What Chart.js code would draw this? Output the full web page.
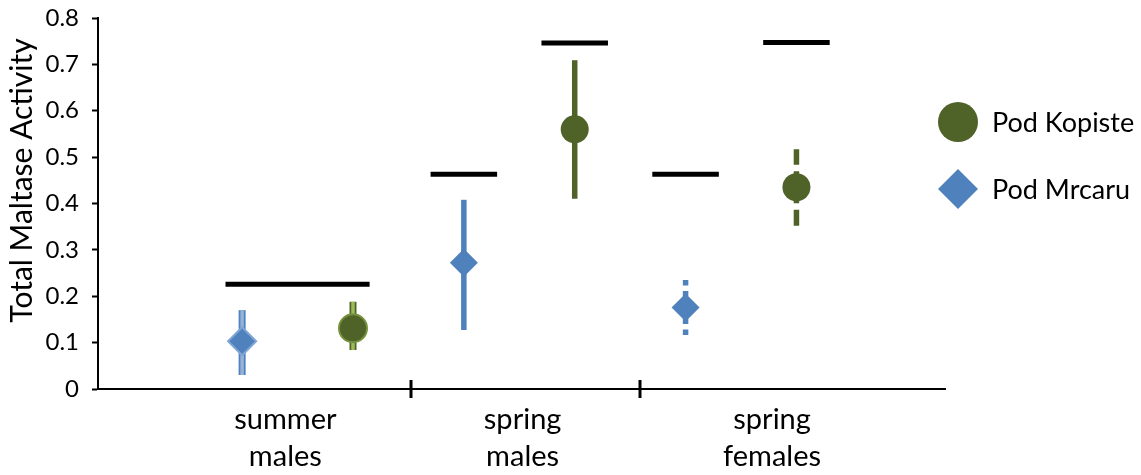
<!DOCTYPE html>
<html>
<head>
<meta charset="utf-8">
<script src="https://cdn.jsdelivr.net/npm/chart.js@4.4.1/dist/chart.umd.min.js"></script>
<style>
  body { margin: 0; background: #fff; }
  #wrap { width: 1141px; height: 475px; }
</style>
</head>
<body>
<div id="wrap"><canvas id="maltaseChart" width="1141" height="475"></canvas></div>
<script>
const categories = [['summer', 'males'], ['spring', 'males'], ['spring', 'females']];

const kopisteMean = [0.131, 0.560, 0.435];
const kopisteLow = [0.084, 0.410, 0.350];
const kopisteHigh = [0.188, 0.709, 0.517];

const mrcaruMean = [0.103, 0.272, 0.176];
const mrcaruLow = [0.030, 0.127, 0.116];
const mrcaruHigh = [0.170, 0.408, 0.235];

// black bars drawn above each group
const kopisteCap = [0.226, 0.746, 0.747];
const mrcaruCap = [0.226, 0.463, 0.463];

const yTicks = [0, 0.1, 0.2, 0.3, 0.4, 0.5, 0.6, 0.7, 0.8];

// layout
const FONT = 'Lato';
const X_MIN = -0.3, X_MAX = 7.34;
const labelPos = [1.39, 3.53, 5.78];
const dividers = [2.52, 4.59];
const barStyle = ['outline', 'solid', 'dashed'];

const series = [
  { name: 'Pod Kopiste', mean: kopisteMean, low: kopisteLow, high: kopisteHigh, cap: kopisteCap,
    offset: 2, color: '#4F6228', light: '#9BBB59', rim: '#76923C', shape: 'circle', dash: [16, 6.5] },
  { name: 'Pod Mrcaru', mean: mrcaruMean, low: mrcaruLow, high: mrcaruHigh, cap: mrcaruCap,
    offset: 1, color: '#4F81BD', light: '#95B3D7', rim: '#7FA5D6', shape: 'rectRot', dash: [5.5, 5.5] }
];

function xOf(s, i) { return 2 * i + s.offset; }

const datasets = [];

// markers first so they sit on top
series.forEach((s) => {
  datasets.push({
    label: s.name,
    data: s.mean.map((v, i) => ({ x: xOf(s, i), y: v })),
    pointStyle: s.shape,
    pointRadius: 14,
    pointBackgroundColor: s.color,
    pointBorderColor: s.mean.map((v, i) => (barStyle[i] === 'outline' ? s.rim : s.color)),
    pointBorderWidth: s.mean.map((v, i) => (barStyle[i] === 'outline' ? 2 : 0))
  });
});

// error bars, drawn from the mean outwards (upper and lower halves)
function half(s, i, end, width, color, dash) {
  return {
    data: [{ x: xOf(s, i), y: s.mean[i] }, { x: xOf(s, i), y: end }],
    showLine: true,
    pointRadius: 0,
    borderColor: color,
    borderWidth: width,
    borderDash: dash,
    borderCapStyle: 'butt'
  };
}

series.forEach((s) => {
  s.mean.forEach((m, i) => {
    [s.high[i], s.low[i]].forEach((end) => {
      if (barStyle[i] === 'outline') {
        datasets.push(half(s, i, end, 3.5, s.light, []));
        datasets.push(half(s, i, end, 7, s.color, []));
      } else if (barStyle[i] === 'dashed') {
        datasets.push(half(s, i, end, 5.5, s.color, s.dash));
      } else {
        datasets.push(half(s, i, end, 5.5, s.color, []));
      }
    });
  });
});

// black cap lines
function capLine(x1, x2, y) {
  return {
    data: [{ x: x1, y: y }, { x: x2, y: y }],
    showLine: true,
    pointRadius: 0,
    borderColor: '#000',
    borderWidth: 5,
    borderCapStyle: 'butt'
  };
}
const [kop, mrc] = series;
categories.forEach((c, i) => {
  if (kop.cap[i] === mrc.cap[i]) {
    datasets.push(capLine(xOf(mrc, i) - 0.15, xOf(kop, i) + 0.15, kop.cap[i]));
  } else {
    datasets.push(capLine(xOf(mrc, i) - 0.3, xOf(mrc, i) + 0.3, mrc.cap[i]));
    datasets.push(capLine(xOf(kop, i) - 0.3, xOf(kop, i) + 0.3, kop.cap[i]));
  }
});

const dividerTicks = {
  id: 'dividerTicks',
  afterDraw(chart) {
    const { ctx } = chart;
    const xs = chart.scales.x;
    const yb = chart.chartArea.bottom;
    ctx.save();
    ctx.strokeStyle = '#000';
    ctx.lineWidth = 3;
    dividers.forEach((d) => {
      const px = Math.round(xs.getPixelForValue(d));
      ctx.beginPath();
      ctx.moveTo(px, yb - 9);
      ctx.lineTo(px, yb + 9);
      ctx.stroke();
    });
    ctx.restore();
  }
};

const sideLegend = {
  id: 'sideLegend',
  afterDraw(chart) {
    const { ctx } = chart;
    const x = chart.chartArea.right + 13;
    const r = 20;
    ctx.save();
    series.forEach((s, k) => {
      const y = 122 + k * 67;
      ctx.fillStyle = s.color;
      ctx.beginPath();
      if (s.shape === 'circle') {
        ctx.arc(x, y, r, 0, Math.PI * 2);
      } else {
        ctx.moveTo(x, y - r);
        ctx.lineTo(x + r, y);
        ctx.lineTo(x, y + r);
        ctx.lineTo(x - r, y);
        ctx.closePath();
      }
      ctx.fill();
      ctx.fillStyle = '#000';
      ctx.font = '27px ' + FONT;
      ctx.textBaseline = 'middle';
      ctx.textAlign = 'left';
      ctx.fillText(s.name, x + 34, y + 1);
    });
    ctx.restore();
  }
};

new Chart(document.getElementById('maltaseChart'), {
  type: 'scatter',
  data: { datasets: datasets },
  plugins: [dividerTicks, sideLegend],
  options: {
    responsive: false,
    animation: false,
    events: [],
    layout: { padding: { top: 18, right: 196, bottom: 0, left: 0 } },
    plugins: { legend: { display: false }, tooltip: { enabled: false } },
    scales: {
      x: {
        type: 'linear',
        min: X_MIN,
        max: X_MAX,
        afterBuildTicks: (s) => { s.ticks = labelPos.map((v) => ({ value: v })); },
        afterFit: (s) => { s.height = 86; s.paddingLeft = 0; s.paddingRight = 0; },
        grid: { display: false },
        border: { display: true, color: '#000', width: 2 },
        ticks: {
          autoSkip: false,
          maxRotation: 0,
          padding: 4,
          color: '#000',
          font: { family: FONT, size: 29, lineHeight: 1.28 },
          callback: (v, i) => categories[i]
        }
      },
      y: {
        min: 0,
        max: 0.8,
        afterBuildTicks: (s) => { s.ticks = yTicks.map((v) => ({ value: v })); },
        afterFit: (s) => { s.width = 98; s.paddingTop = 0; s.paddingBottom = 0; },
        grid: { drawOnChartArea: false, tickLength: 6, tickWidth: 2, tickColor: '#000', color: '#000' },
        border: { color: '#000', width: 2 },
        ticks: {
          padding: 13,
          color: '#000',
          font: { family: FONT, size: 24 },
          callback: (v) => String(+v.toFixed(1))
        },
        title: {
          display: true,
          text: '      Total Maltase Activity',
          color: '#000',
          font: { family: FONT, size: 30 },
          padding: { top: 4, bottom: 0 }
        }
      }
    }
  }
});
</script>
</body>
</html>
